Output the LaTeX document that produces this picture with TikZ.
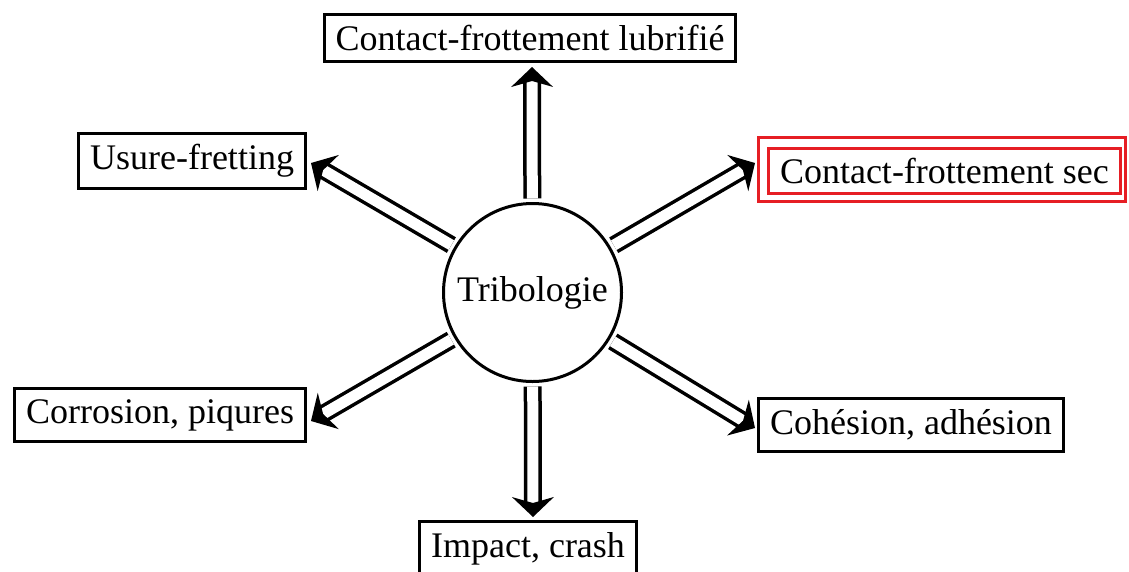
\documentclass[tikz,border=0pt]{standalone}
\usepackage{fontspec}
\setmainfont{Liberation Serif}
\usetikzlibrary{arrows.meta}
\definecolor{boxred}{RGB}{230,30,36}
\tikzset{
  topic/.style={draw=black, line width=3pt, inner xsep=11.5pt, inner ysep=11pt, outer sep=0pt,
    font=\fontsize{36}{40}\selectfont},
  hub/.style={draw=black, circle, line width=3pt, minimum size=178pt, inner sep=0pt, outer sep=0pt,
    font=\fontsize{36}{40}\selectfont},
  dbl/.style={line width=3.5pt, double=white, double distance=11pt, shorten <=5pt,
    -{Stealth[length=20pt, width=42pt, inset=6pt, line width=0pt]}},
}
\begin{document}
\begin{tikzpicture}[x=1pt, y=-1pt]
\useasboundingbox (0,0) rectangle (1129,571);
\clip (0,0) rectangle (1129,571);
\node[hub] (c) at (532.5,292.5) {Tribologie};
\node[topic] (lub) at (530,38) {Contact-frottement lubrifié};
\node[topic, anchor=east] (use) at (305.5,161) {Usure-fretting};
\node[topic, anchor=east] (cor) at (305.5,415) {Corrosion, piqures};
\node[topic, anchor=west] (coh) at (758.5,425) {Cohésion, adhésion};
\node[topic, draw=boxred, anchor=west, inner ysep=10pt] (sec) at (768.5,171) {Contact-frottement sec};
\draw[boxred, line width=3pt] ([shift={(-10pt,11pt)}]sec.north west) rectangle ([shift={(5pt,-8pt)}]sec.south east);
\node[topic, anchor=north] (imp) at (528,521.5) {Impact, crash};
\coordinate (aUp) at (532,67);
\coordinate (aUL) at (311,163);
\coordinate (aUR) at (755,163);
\coordinate (aLL) at (311,421);
\coordinate (aLR) at (755,428);
\coordinate (aDn) at (533,517);
\draw[dbl] (c) -- (aUp);
\draw[dbl] (c) -- (aUL);
\draw[dbl] (c) -- (aUR);
\draw[dbl] (c) -- (aLL);
\draw[dbl] (c) -- (aLR);
\draw[dbl] (c) -- (aDn);
\end{tikzpicture}
\end{document}
